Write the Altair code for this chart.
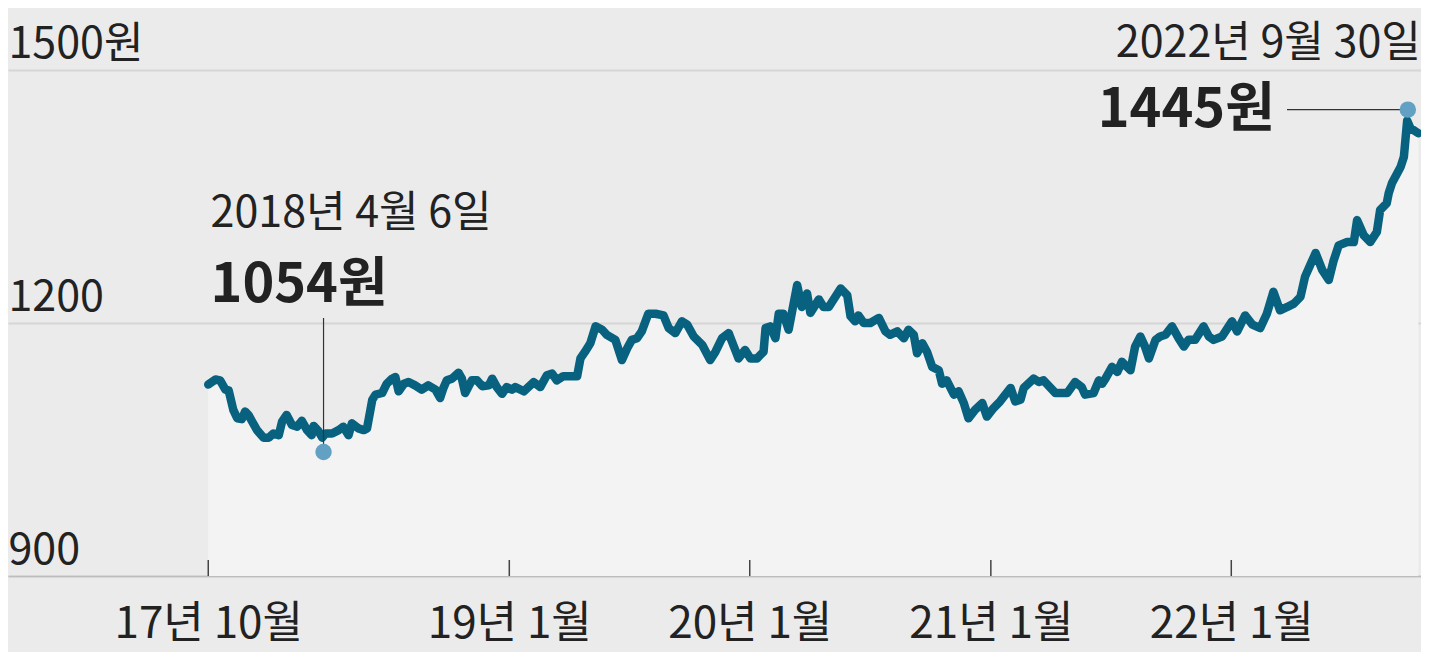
import altair as alt
import pandas as pd

# ---- data ----
dates = [
    "2017-10-01", "2017-10-12", "2017-10-19", "2017-10-27", "2017-11-01", "2017-11-08", "2017-11-14",
    "2017-11-21", "2017-11-26", "2017-12-01", "2017-12-14", "2017-12-24", "2018-01-01", "2018-01-08",
    "2018-01-16", "2018-01-21", "2018-01-28", "2018-02-05", "2018-02-13", "2018-02-20", "2018-02-28",
    "2018-03-07", "2018-03-10", "2018-03-17", "2018-03-23", "2018-03-28", "2018-04-07", "2018-04-17",
    "2018-04-24", "2018-05-02", "2018-05-07", "2018-05-17", "2018-05-25", "2018-05-30", "2018-06-07",
    "2018-06-12", "2018-06-22", "2018-06-29", "2018-07-07", "2018-07-12", "2018-07-17", "2018-07-25",
    "2018-08-01", "2018-08-11", "2018-08-21", "2018-08-31", "2018-09-11", "2018-09-18", "2018-09-23",
    "2018-09-28", "2018-10-06", "2018-10-16", "2018-10-21", "2018-10-26", "2018-11-05", "2018-11-13",
    "2018-11-21", "2018-12-01", "2018-12-06", "2018-12-13", "2018-12-21", "2018-12-28", "2019-01-05",
    "2019-01-10", "2019-01-23", "2019-02-07", "2019-02-17", "2019-02-27", "2019-03-07", "2019-03-14",
    "2019-03-24", "2019-04-14", "2019-04-19", "2019-04-26", "2019-05-04", "2019-05-12", "2019-05-22",
    "2019-05-29", "2019-06-11", "2019-06-21", "2019-06-29", "2019-07-06", "2019-07-14", "2019-07-21",
    "2019-07-31", "2019-08-11", "2019-08-23", "2019-08-31", "2019-09-10", "2019-09-20", "2019-09-28",
    "2019-10-08", "2019-10-21", "2019-11-02", "2019-11-10", "2019-11-20", "2019-11-30", "2019-12-07",
    "2019-12-15", "2019-12-25", "2020-01-02", "2020-01-12", "2020-01-22", "2020-01-25", "2020-02-01",
    "2020-02-09", "2020-02-14", "2020-02-21", "2020-02-29", "2020-03-13", "2020-03-20", "2020-03-28",
    "2020-04-02", "2020-04-15", "2020-04-22", "2020-04-30", "2020-05-18", "2020-05-28", "2020-06-02",
    "2020-06-09", "2020-06-14", "2020-06-22", "2020-07-02", "2020-07-15", "2020-07-25", "2020-08-01",
    "2020-08-12", "2020-08-22", "2020-08-29", "2020-09-06", "2020-09-11", "2020-09-19", "2020-09-26",
    "2020-10-04", "2020-10-14", "2020-10-19", "2020-10-26", "2020-11-06", "2020-11-13", "2020-11-21",
    "2020-11-28", "2020-12-08", "2020-12-19", "2020-12-26", "2021-01-05", "2021-01-15", "2021-01-31",
    "2021-02-07", "2021-02-15", "2021-02-20", "2021-03-07", "2021-03-15", "2021-03-22", "2021-04-09",
    "2021-04-27", "2021-05-09", "2021-05-19", "2021-05-24", "2021-06-06", "2021-06-14", "2021-06-19",
    "2021-06-24", "2021-07-04", "2021-07-12", "2021-07-19", "2021-08-01", "2021-08-08", "2021-08-16",
    "2021-08-23", "2021-08-29", "2021-09-08", "2021-09-15", "2021-09-23", "2021-10-03", "2021-10-13",
    "2021-10-21", "2021-10-28", "2021-11-07", "2021-11-20", "2021-11-28", "2021-12-05", "2021-12-18",
    "2022-01-02", "2022-01-10", "2022-01-22", "2022-02-02", "2022-02-14", "2022-02-24", "2022-03-06",
    "2022-03-16", "2022-03-27", "2022-04-06", "2022-04-16", "2022-04-23", "2022-05-01", "2022-05-09",
    "2022-05-19", "2022-05-29", "2022-06-05", "2022-06-13", "2022-06-26", "2022-07-06", "2022-07-11",
    "2022-07-21", "2022-07-31", "2022-08-10", "2022-08-15", "2022-08-25", "2022-08-28", "2022-09-02",
    "2022-09-15", "2022-09-20", "2022-09-25", "2022-09-30", "2022-10-12",
]
values = [
    1127, 1133, 1132, 1121, 1120, 1097, 1087,
    1086, 1095, 1091, 1073, 1064, 1064, 1069,
    1067, 1083, 1091, 1079, 1077, 1084, 1073,
    1067, 1078, 1072, 1064, 1069, 1069, 1073,
    1077, 1067, 1081, 1075, 1073, 1075, 1109,
    1115, 1117, 1128, 1134, 1136, 1119, 1128,
    1130, 1126, 1121, 1126, 1121, 1111, 1123,
    1132, 1134, 1141, 1134, 1117, 1132, 1132,
    1125, 1126, 1134, 1124, 1116, 1124, 1121,
    1124, 1119, 1130, 1124, 1138, 1140, 1132,
    1137, 1137, 1158, 1166, 1176, 1196, 1192,
    1186, 1180, 1156, 1170, 1180, 1182, 1190,
    1211, 1211, 1209, 1194, 1188, 1202, 1198,
    1184, 1174, 1156, 1166, 1182, 1188, 1174,
    1158, 1168, 1158, 1158, 1166, 1194, 1196,
    1182, 1211, 1211, 1192, 1245, 1219, 1235,
    1212, 1228, 1219, 1219, 1241, 1233, 1208,
    1202, 1209, 1200, 1200, 1206, 1190, 1186,
    1190, 1182, 1192, 1186, 1164, 1176, 1166,
    1148, 1144, 1128, 1132, 1115, 1119, 1105,
    1087, 1097, 1105, 1089, 1099, 1107, 1123,
    1107, 1109, 1123, 1134, 1130, 1132, 1117,
    1117, 1130, 1124, 1115, 1117, 1132, 1128,
    1134, 1148, 1142, 1154, 1144, 1172, 1184,
    1172, 1158, 1180, 1184, 1186, 1196, 1182,
    1172, 1180, 1180, 1196, 1184, 1180, 1184,
    1202, 1190, 1209, 1198, 1194, 1211, 1237,
    1215, 1219, 1223, 1231, 1255, 1269, 1283,
    1263, 1251, 1273, 1292, 1296, 1296, 1322,
    1304, 1296, 1308, 1334, 1342, 1354, 1366,
    1385, 1397, 1440, 1431, 1425,
]

x_tick_dates = ["2017-10-01", "2019-01-01", "2020-01-01", "2021-01-01", "2022-01-01"]
x_tick_labels = ["17년 10월", "19년 1월", "20년 1월", "21년 1월", "22년 1월"]
y_ticks = [900, 1200, 1500]
y_tick_labels = ["900", "1200", "1500원"]

ann_dates = ["2018-03-25", "2022-09-26"]
ann_values = [1047, 1453]
ann_date_text = ["2018년 4월 6일", "2022년 9월 30일"]
ann_value_text = ["1054원", "1445원"]

# ---- styling ----
FONT = "Noto Sans CJK KR, sans-serif"
TEXT = "#222222"
LINE = "#08627f"
DOT = "#62a0c4"


def dt(s):
    y, m, d = (int(p) for p in s.split("-"))
    return alt.DateTime(year=y, month=m, date=d, utc=True)


x_label_expr = "".join(
    f"utcFormat(datum.value, '%Y-%m') == '{d[:7]}' ? '{l}' : " for d, l in zip(x_tick_dates, x_tick_labels)
) + "''"
y_label_expr = "".join(
    f"datum.value == {v} ? '{l}' : " for v, l in zip(y_ticks, y_tick_labels)
) + "datum.label"

x_scale = alt.Scale(domain=[dt("2016-12-01"), dt("2022-10-16")])
y_scale = alt.Scale(domain=[900, 1500], nice=False, zero=False)

x_axis = alt.Axis(
    values=[dt(d) for d in x_tick_dates], labelExpr=x_label_expr, title=None, grid=False,
    ticks=False, tickSize=0, domainColor="#bdbdbd", domainWidth=1.5,
    labelFont=FONT, labelFontSize=44, labelColor=TEXT, labelPadding=61,
    labelBaseline="alphabetic", labelAlign="center", labelFlush=False, labelOverlap=False,
    labelLimit=600,
)
y_axis = alt.Axis(
    values=y_ticks, labelExpr=y_label_expr, title=None, grid=True, gridColor="#d6d6d6",
    gridWidth=2, ticks=False, tickSize=0, domain=False,
    labelFont=FONT, labelFontSize=43, labelColor=TEXT, labelAlign="left",
    labelBaseline="alphabetic", labelPadding=0, labelOffset=-13,
    labelFlush=False, labelOverlap=False, labelLimit=600,
)

df = pd.DataFrame({"date": dates, "value": values})
tick_df = pd.DataFrame({"date": x_tick_dates})
ann_df = pd.DataFrame({"date": ann_dates, "value": ann_values,
                       "date_text": ann_date_text, "value_text": ann_value_text})
ann1 = ann_df.iloc[[0]]
ann2 = ann_df.iloc[[1]]

area = alt.Chart(df).mark_area(color="#f3f3f3").encode(
    x=alt.X("date:T", scale=x_scale, axis=x_axis),
    y=alt.Y("value:Q", scale=y_scale, axis=y_axis),
    y2=alt.datum(900),
)
line = alt.Chart(df).mark_line(color=LINE, strokeWidth=8.5, strokeJoin="round", strokeCap="round").encode(
    x="date:T", y="value:Q"
)
ticks = alt.Chart(tick_df).mark_rule(color="#444444", strokeWidth=1.5).encode(
    x="date:T", y=alt.datum(900), y2=alt.datum(919)
)
lead1 = alt.Chart(ann1).mark_rule(color="#333333", strokeWidth=1.2).encode(
    x="date:T", y="value:Q", y2=alt.value(248)
)
lead2 = alt.Chart(ann2).mark_rule(color="#333333", strokeWidth=1.2).encode(
    x="date:T", x2=alt.value(1279), y="value:Q"
)
dots = alt.Chart(ann_df).mark_circle(color=DOT, size=270, opacity=1).encode(x="date:T", y="value:Q")

t1a = alt.Chart(ann1).mark_text(align="left", baseline="alphabetic", dx=-113, dy=-225,
                                font=FONT, fontSize=43, color=TEXT).encode(
    x="date:T", y="value:Q", text="date_text:N")
t1b = alt.Chart(ann1).mark_text(align="left", baseline="alphabetic", dx=-113, dy=-150,
                                font=FONT, fontSize=54, fontWeight="bold", color=TEXT).encode(
    x="date:T", y="value:Q", text="value_text:N")
t2a = alt.Chart(ann2).mark_text(align="right", baseline="alphabetic", dx=13, dy=-53,
                                font=FONT, fontSize=43, color=TEXT).encode(
    x="date:T", y="value:Q", text="date_text:N")
t2b = alt.Chart(ann2).mark_text(align="right", baseline="alphabetic", dx=-133, dy=17,
                                font=FONT, fontSize=54, fontWeight="bold", color=TEXT).encode(
    x="date:T", y="value:Q", text="value_text:N")

chart = alt.layer(area, line, ticks, lead1, lead2, dots, t1a, t1b, t2a, t2b).properties(
    width=1413, height=506, background="#ebebeb",
    autosize=alt.AutoSizeParams(type="none"),
    padding={"left": 0, "top": 62, "right": 0, "bottom": 76},
).configure_view(strokeWidth=0)

chart.save("out.html", embed_options={"renderer": "svg", "actions": False})
